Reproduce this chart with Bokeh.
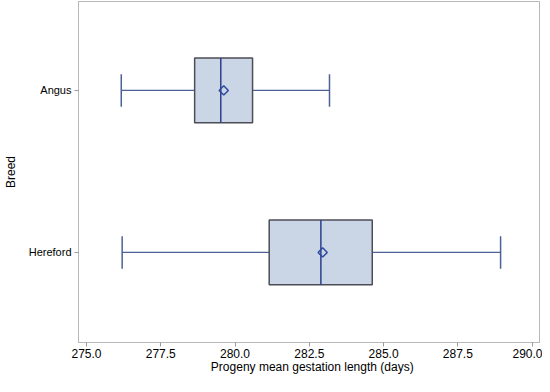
import math
from bokeh.plotting import figure
from bokeh.models import Range1d, FixedTicker, NumeralTickFormatter, ColumnDataSource, LinearAxis
from bokeh.embed import file_html
from bokeh.resources import INLINE

breeds = ["Angus", "Hereford"]
ypos = [1, 0]
whisker_low = [276.17, 276.20]
q1 = [278.64, 281.15]
median = [279.52, 282.89]
mean = [279.62, 282.95]
q3 = [280.59, 284.62]
whisker_high = [283.18, 288.94]
x_ticks = [275.0, 277.5, 280.0, 282.5, 285.0, 287.5, 290.0]
x_title = "Progeny mean gestation length (days)"
x_title_at = 282.6
y_title = "Breed"

box_h = 0.40
cap_h = 0.20
x_lo, x_hi = 274.73, 290.25
y_lo, y_hi = -0.556, 1.549

src = ColumnDataSource(dict(
    y=ypos, lo=whisker_low, q1=q1, med=median, mean=mean, q3=q3, hi=whisker_high,
    cap_b=[v - cap_h / 2 for v in ypos], cap_t=[v + cap_h / 2 for v in ypos],
    box_b=[v - box_h / 2 for v in ypos], box_t=[v + box_h / 2 for v in ypos],
))

p = figure(width=542, height=376, output_backend="svg", toolbar_location=None,
           x_range=Range1d(x_lo, x_hi), y_range=Range1d(y_lo, y_hi),
           min_border_left=0, min_border_right=3, min_border_top=1, min_border_bottom=0)

FONT = "Liberation Sans"
whisk_col = "#4d6197"

# whiskers
p.segment(x0="lo", y0="y", x1="q1", y1="y", source=src, line_color=whisk_col, line_width=1.3)
p.segment(x0="q3", y0="y", x1="hi", y1="y", source=src, line_color=whisk_col, line_width=1.3)
p.segment(x0="lo", y0="cap_b", x1="lo", y1="cap_t", source=src, line_color=whisk_col, line_width=1.5)
p.segment(x0="hi", y0="cap_b", x1="hi", y1="cap_t", source=src, line_color=whisk_col, line_width=1.5)
# boxes
p.hbar(y="y", left="q1", right="q3", height=box_h, source=src,
       fill_color="#cad5e6", line_color="#4d4d55", line_width=1.5)
# median
p.segment(x0="med", y0="box_b", x1="med", y1="box_t", source=src, line_color="#2b3f8c", line_width=1.5)
# mean
p.scatter(x="mean", y="y", source=src, marker="square", size=6.5, angle=math.pi / 4,
          fill_color=None, line_color="#2e4a9e", line_width=1.5)

p.grid.visible = False
p.outline_line_color = "#b8b8b8"
p.outline_line_width = 1

p.xaxis.ticker = FixedTicker(ticks=x_ticks)
p.xaxis.formatter = NumeralTickFormatter(format="0.0")
p.yaxis.ticker = FixedTicker(ticks=ypos)
p.yaxis.major_label_overrides = {1: breeds[0], 0: breeds[1]}
p.yaxis.axis_label = y_title

for ax in (p.xaxis[0], p.yaxis[0]):
    ax.axis_line_color = "#b8b8b8"
    ax.major_tick_line_color = "#9a9a9a"
    ax.major_tick_out = 4
    ax.major_tick_in = 0
    ax.minor_tick_line_color = None
    ax.major_label_text_font = FONT
    ax.major_label_text_color = "black"
    ax.axis_label_text_font = FONT
    ax.axis_label_text_font_size = "12px"
    ax.axis_label_text_font_style = "normal"
    ax.axis_label_text_color = "black"
p.xaxis.major_label_text_font_size = "12px"
p.yaxis.major_label_text_font_size = "11px"
p.xaxis.major_label_standoff = 2
p.yaxis.major_label_standoff = 3
p.yaxis.axis_label_standoff = 8

# x-axis title drawn as the single tick label of a second, bare axis below
title_axis = LinearAxis(ticker=FixedTicker(ticks=[x_title_at]),
                        major_label_overrides={x_title_at: x_title},
                        axis_line_color=None, major_tick_line_color=None,
                        minor_tick_line_color=None, major_tick_out=0, major_tick_in=0,
                        major_label_standoff=-1, major_label_text_font=FONT,
                        major_label_text_font_size="12px", major_label_text_color="black")
p.add_layout(title_axis, "below")

open("out.html", "w").write(file_html(p, INLINE))
